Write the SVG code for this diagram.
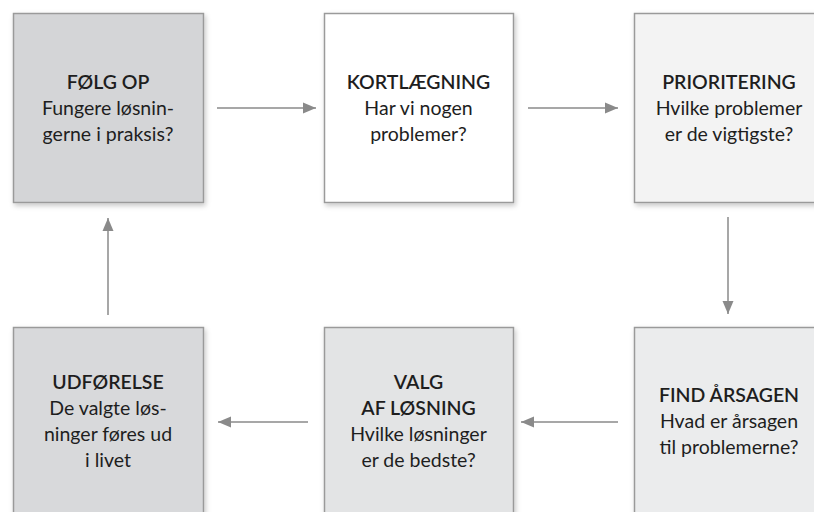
<svg xmlns="http://www.w3.org/2000/svg" width="814" height="512" viewBox="0 0 814 512">
  <defs>
    <filter id="sh" x="-10%" y="-10%" width="125%" height="125%">
      <feDropShadow dx="1.5" dy="2.5" stdDeviation="2.5" flood-color="#000" flood-opacity="0.22"/>
    </filter>
    <marker id="ah" markerWidth="14" markerHeight="12" refX="13" refY="6" orient="auto" markerUnits="userSpaceOnUse">
      <path d="M0,0.5 L13,6 L0,11.5 Z" fill="#8a8a8a"/>
    </marker>
    <style>
      .box { stroke: #9a9a9a; stroke-width: 1.5; filter: url(#sh); }
      .t { font-family: Lato, "Open Sans", "Liberation Sans", sans-serif; font-size: 19.5px; fill: #1e1e1e; text-anchor: middle; }
      .b { font-weight: 600; }
      .c { stroke: #8a8a8a; stroke-width: 1.5; fill: none; marker-end: url(#ah); }
    </style>
  </defs>
  <rect width="814" height="512" fill="#fff"/>
  <g id="connectors">
    <line class="c" x1="217" y1="108" x2="316" y2="108"/>
    <line class="c" x1="528" y1="108" x2="618" y2="108"/>
    <line class="c" x1="728" y1="217" x2="728" y2="314"/>
    <line class="c" x1="618" y1="422" x2="521" y2="422"/>
    <line class="c" x1="308" y1="422" x2="218" y2="422"/>
    <line class="c" x1="108" y1="315" x2="108" y2="218"/>
  </g>
  <g id="folg-op">
    <rect class="box" x="13.5" y="13.5" width="190" height="189" fill="#d4d5d7"/>
    <text class="t b" x="108" y="89">FØLG OP</text>
    <text class="t" x="108" y="115">Fungere løsnin-</text>
    <text class="t" x="108" y="141">gerne i praksis?</text>
  </g>
  <g id="kortlaegning">
    <rect class="box" x="324.5" y="13.5" width="189" height="189" fill="#ffffff"/>
    <text class="t b" x="418.5" y="89">KORTLÆGNING</text>
    <text class="t" x="418.5" y="115">Har vi nogen</text>
    <text class="t" x="418.5" y="141">problemer?</text>
  </g>
  <g id="prioritering">
    <rect class="box" x="634.5" y="13.5" width="190" height="189" fill="#f3f3f3"/>
    <text class="t b" x="729" y="89">PRIORITERING</text>
    <text class="t" x="729" y="115">Hvilke problemer</text>
    <text class="t" x="729" y="141">er de vigtigste?</text>
  </g>
  <g id="find-aarsagen">
    <rect class="box" x="634.5" y="327.5" width="190" height="200" fill="#ebeced"/>
    <text class="t b" x="729" y="402">FIND ÅRSAGEN</text>
    <text class="t" x="729" y="428">Hvad er årsagen</text>
    <text class="t" x="729" y="454">til problemerne?</text>
  </g>
  <g id="valg">
    <rect class="box" x="324.5" y="327.5" width="189" height="200" fill="#e3e4e5"/>
    <text class="t b" x="418.5" y="389">VALG</text>
    <text class="t b" x="418.5" y="415">AF LØSNING</text>
    <text class="t" x="418.5" y="441">Hvilke løsninger</text>
    <text class="t" x="418.5" y="467">er de bedste?</text>
  </g>
  <g id="udfoerelse">
    <rect class="box" x="13.5" y="327.5" width="190" height="200" fill="#d8d9db"/>
    <text class="t b" x="108" y="389">UDFØRELSE</text>
    <text class="t" x="108" y="415">De valgte løs-</text>
    <text class="t" x="108" y="441">ninger føres ud</text>
    <text class="t" x="108" y="467">i livet</text>
  </g>
</svg>
